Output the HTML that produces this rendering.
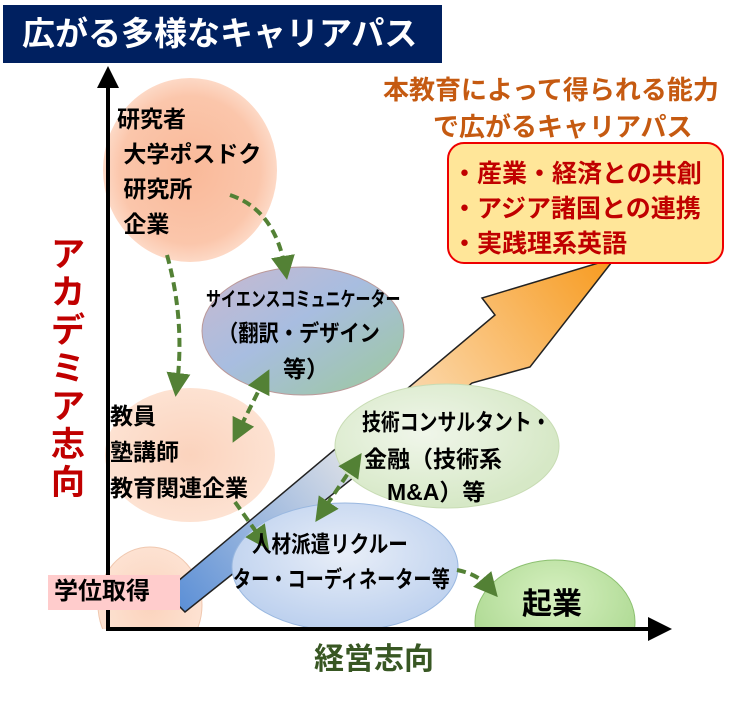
<!DOCTYPE html>
<html><head><meta charset="utf-8"><style>
body{margin:0;width:743px;height:703px;background:#fff;overflow:hidden;position:relative;font-family:"Liberation Sans","Noto Sans CJK JP",sans-serif;font-weight:bold}
.t{position:absolute;white-space:nowrap;line-height:1}
</style></head><body>
<svg width="743" height="703" style="position:absolute;left:0;top:0">
<defs>
<radialGradient id="pk" cx="0.5" cy="0.5" r="0.5"><stop offset="0" stop-color="#f9b999"/><stop offset="0.8" stop-color="#fbc6ab"/><stop offset="1" stop-color="#fdd9c6"/></radialGradient>
<radialGradient id="pk2" cx="0.5" cy="0.5" r="0.5"><stop offset="0" stop-color="#fbd3bd"/><stop offset="1" stop-color="#fde2d2"/></radialGradient>
<linearGradient id="sc" x1="0" y1="0" x2="1" y2="1"><stop offset="0" stop-color="#c9b9cf"/><stop offset="0.45" stop-color="#a8bde0"/><stop offset="1" stop-color="#9cc99c"/></linearGradient>
<radialGradient id="gr" cx="0.4" cy="0.4" r="0.6"><stop offset="0" stop-color="#f0f6ea"/><stop offset="1" stop-color="#d6e8c6"/></radialGradient>
<radialGradient id="bl" cx="0.5" cy="0.4" r="0.6"><stop offset="0" stop-color="#e8eef8"/><stop offset="1" stop-color="#bcd0ee"/></radialGradient>
<radialGradient id="kg" cx="0.5" cy="0.3" r="0.7"><stop offset="0" stop-color="#d6f0c0"/><stop offset="1" stop-color="#a6d58a"/></radialGradient>
<linearGradient id="ar" x1="170" y1="600" x2="615" y2="258" gradientUnits="userSpaceOnUse"><stop offset="0" stop-color="#5b8fd6"/><stop offset="0.4" stop-color="#d8dde6"/><stop offset="0.6" stop-color="#fbd3a0"/><stop offset="1" stop-color="#f79a1e"/></linearGradient>
<marker id="ah" markerWidth="6" markerHeight="6" refX="3" refY="3" orient="auto" markerUnits="strokeWidth"><path d="M0,0 L6,3 L0,6 z" fill="#538135"/></marker>
<marker id="ahs" markerWidth="6" markerHeight="6" refX="3" refY="3" orient="auto-start-reverse" markerUnits="strokeWidth"><path d="M0,0 L6,3 L0,6 z" fill="#538135"/></marker>
</defs>
<ellipse cx="190" cy="170" rx="87" ry="92" fill="url(#pk)"/>
<ellipse cx="190" cy="455" rx="85" ry="67" fill="url(#pk2)"/>
<ellipse cx="150" cy="605" rx="52" ry="58" fill="url(#pk2)" stroke="#f0c8b0"/>
<polygon points="165,592 495,315 482,298 615,258 530,367 472,383 185,612" fill="url(#ar)" stroke="#222" stroke-width="1.5"/>
<ellipse cx="303" cy="331" rx="101" ry="64" fill="url(#sc)" stroke="#b99" stroke-width="1"/>
<ellipse cx="447" cy="446" rx="112" ry="62" fill="url(#gr)" stroke="#c8dcb4"/>
<ellipse cx="345" cy="567" rx="113" ry="64" fill="url(#bl)" stroke="#9ab8e0"/>
<ellipse cx="555" cy="622" rx="80" ry="62" fill="url(#kg)" stroke="#8cc070"/>
<rect x="0" y="629" width="743" height="80" fill="#fff"/>
<line x1="108" y1="85" x2="108" y2="630" stroke="#000" stroke-width="4"/>
<polygon points="97,88 108,66 119,88" fill="#000"/>
<line x1="106" y1="629" x2="650" y2="629" stroke="#000" stroke-width="4"/>
<polygon points="648,617 672,629 648,641" fill="#000"/>
<g fill="none" stroke="#538135" stroke-width="4" stroke-dasharray="9,5">
<path d="M230,195 Q275,210 285,268" marker-end="url(#ah)"/>
<path d="M167,255 Q185,320 177,385" marker-end="url(#ah)"/>
<path d="M264,380 L238,432" marker-end="url(#ah)" marker-start="url(#ahs)"/>
<path d="M235,502 L262,540" marker-end="url(#ah)"/>
<path d="M355,463 L322,512" marker-end="url(#ah)" marker-start="url(#ahs)"/>
<path d="M457,570 Q478,574 490,588" marker-end="url(#ah)"/>
</g>
<rect x="448" y="143" width="275" height="120" rx="16" fill="#ffe699" stroke="#e00" stroke-width="2"/>
<rect x="3" y="5" width="439" height="58" fill="#002060"/>
<rect x="48" y="575" width="132" height="35" fill="#ffcccc"/>
</svg>
<div class="t" style="left:22px;top:17px;font-size:33px;color:#fff">広がる多様なキャリアパス</div>
<div class="t" style="left:383px;top:77px;font-size:26px;color:#c55a11">本教育によって得られる能力</div>
<div class="t" style="left:433px;top:114px;font-size:26px;color:#c55a11">で広がるキャリアパス</div>
<div class="t" style="left:452px;top:157px;font-size:25px;color:#c00000;line-height:35px">・産業・経済との共創<br>・アジア諸国との連携<br>・実践理系英語</div>
<div class="t" style="left:117px;top:102px;font-size:23px;line-height:35px">研究者<br>&nbsp;大学ポスドク<br>&nbsp;研究所<br>&nbsp;企業</div>
<div class="t" style="left:48px;top:236px;font-size:34px;color:#c00000;width:40px;white-space:normal;line-height:38px;text-align:center">アカデミア志向</div>
<div class="t" style="left:206px;top:290px;font-size:20px;transform:scaleX(0.75);transform-origin:left">サイエンスコミュニケーター</div>
<div class="t" style="left:218px;top:322px;font-size:23px;transform:scaleX(0.88);transform-origin:left">（翻訳・デザイン</div>
<div class="t" style="left:283px;top:358px;font-size:23px">等）</div>
<div class="t" style="left:110px;top:398px;font-size:23px;line-height:36px">教員<br>塾講師<br>教育関連企業</div>
<div class="t" style="left:362px;top:411px;font-size:23px;transform:scaleX(0.82);transform-origin:left">技術コンサルタント・</div>
<div class="t" style="left:364px;top:448px;font-size:23px">金融（技術系</div>
<div class="t" style="left:387px;top:481px;font-size:23px">M&amp;A）等</div>
<div class="t" style="left:252px;top:533px;font-size:23px;transform:scaleX(0.85);transform-origin:left">人材派遣リクルー</div>
<div class="t" style="left:233px;top:568px;font-size:23px;transform:scaleX(0.79);transform-origin:left">ター・コーディネーター等</div>
<div class="t" style="left:522px;top:590px;font-size:30px">起業</div>
<div class="t" style="left:54px;top:580px;font-size:24px">学位取得</div>
<div class="t" style="left:314px;top:645px;font-size:30px;color:#385723">経営志向</div>
</body></html>
